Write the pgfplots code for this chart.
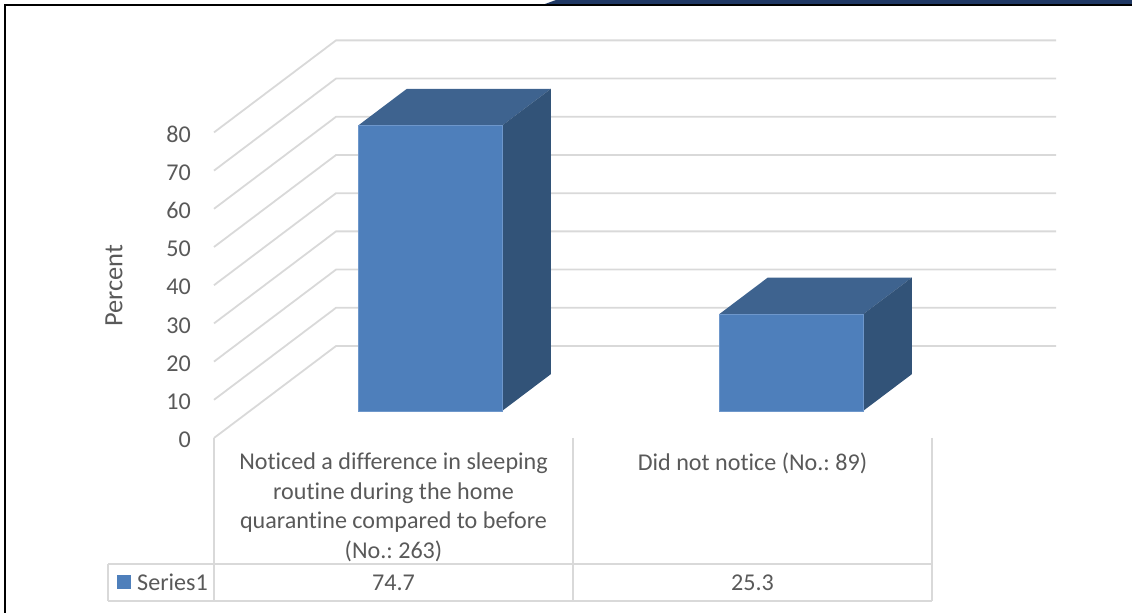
\documentclass[border=0pt]{standalone}
\usepackage{pgfplots}
\usepackage{fontspec}
\setmainfont[Ligatures=NoCommon]{Carlito}
\pgfplotsset{compat=1.18}
\definecolor{gridc}{HTML}{D9D9D9}
\definecolor{textc}{HTML}{595959}
\definecolor{frontc}{HTML}{4E7FBB}
\definecolor{edgec}{HTML}{6E97CB}
\definecolor{sidec}{HTML}{325378}
\definecolor{topc}{HTML}{3E638F}
\definecolor{bandc}{HTML}{1F3864}
\newcommand{\chartfont}{\fontsize{24.2}{29.6}\selectfont\frenchspacing}
\tikzset{
  tick text/.style={font=\chartfont, text=textc, anchor=east, inner sep=0pt},
  grid line/.style={draw=gridc, line width=1.8bp, mark=none},
}
\begin{document}
\begin{tikzpicture}[x=1bp,y=1bp]
\begin{axis}[
  at={(214bp,175bp)}, anchor=origin,
  disabledatascaling,
  x={(1bp,0bp)}, y={(122bp,92bp)}, z={(0bp,3.82bp)},
  xmin=0, xmax=720, ymin=0, ymax=1, zmin=0, zmax=80,
  hide axis, clip=false,
]
% Walls: side wall and back wall gridlines every 10 percent
\pgfplotsinvokeforeach{0,10,...,80}{
  \addplot3[grid line] coordinates {(0,0,#1) (0,1,#1) (720,1,#1)};
  \node[tick text, yshift=-2bp] at (axis cs:-23,0,#1) {#1};
}
% First bar, 74.7 percent: top, side, front
\addplot3[fill=topc, draw=none, mark=none] coordinates {(108.2,0.2935,74.7) (252.2,0.2935,74.7) (252.2,0.6935,74.7) (108.2,0.6935,74.7)};
\addplot3[fill=sidec, draw=none, mark=none] coordinates {(252.2,0.2935,0) (252.2,0.6935,0) (252.2,0.6935,74.7) (252.2,0.2935,74.7)};
\addplot3[fill=frontc, draw=edgec, line width=0.5bp, mark=none] coordinates {(108.2,0.2935,0) (252.2,0.2935,0) (252.2,0.2935,74.7) (108.2,0.2935,74.7) (108.2,0.2935,0)};
% Second bar, 25.3 percent: top, side, front
\addplot3[fill=topc, draw=none, mark=none] coordinates {(469.2,0.2935,25.3) (613.2,0.2935,25.3) (613.2,0.6935,25.3) (469.2,0.6935,25.3)};
\addplot3[fill=sidec, draw=none, mark=none] coordinates {(613.2,0.2935,0) (613.2,0.6935,0) (613.2,0.6935,25.3) (613.2,0.2935,25.3)};
\addplot3[fill=frontc, draw=edgec, line width=0.5bp, mark=none] coordinates {(469.2,0.2935,0) (613.2,0.2935,0) (613.2,0.2935,25.3) (469.2,0.2935,25.3) (469.2,0.2935,0)};
\end{axis}
\pgfresetboundingbox
\begin{scope}[x=1bp,y=-1bp,shift={(0bp,613bp)}]
\path[use as bounding box] (0,0) rectangle (1132,613);
% Surrounding frame and the band above it
\fill[bandc] (545,4) -- (556,0) -- (1132,0) -- (1132,4) -- cycle;
\draw[black, line width=2bp] (5,613) -- (5,5) -- (1132,5);
% Data table under the plot
\draw[gridc, line width=1.8bp]
  (214,438) -- (214,601) (573,438) -- (573,601) (932,438) -- (932,601)
  (108,564) -- (932,564) (108,601) -- (932,601) (108,564) -- (108,601);
\fill[frontc] (117,575) rectangle (131,589);
\begin{scope}[every node/.style={font=\chartfont, text=textc, inner sep=0pt}]
\node[anchor=west] at (137,582.5) {Series1};
\node at (393.5,582.5) {74.7};
\node at (752.5,582.5) {25.3};
\node[anchor=north, align=center] at (393.5,453) {Noticed a difference in sleeping\\routine during the home\\quarantine compared to before\\(No.: 263)};
\node[anchor=north, align=center] at (752.5,453) {Did not notice (No.: 89)};
\node[rotate=90, font=\fontsize{26.5}{30}\selectfont] at (114,286) {Percent};
\end{scope}
\end{scope}
\end{tikzpicture}
\end{document}
